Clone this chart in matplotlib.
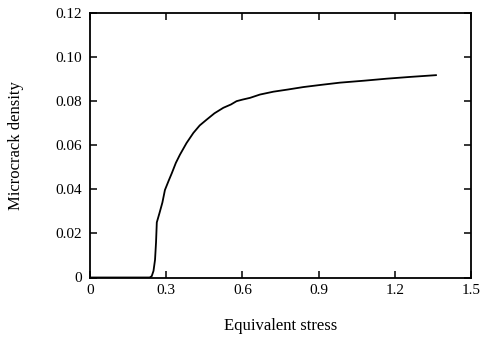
import matplotlib
matplotlib.use("Agg")
import matplotlib.pyplot as plt

stress = [0.0, 0.10, 0.20, 0.235, 0.243, 0.250, 0.256, 0.260, 0.263, 0.273, 0.285, 0.295,
          0.310, 0.322, 0.338, 0.354, 0.380, 0.407, 0.432, 0.459, 0.490, 0.525, 0.555,
          0.577, 0.600, 0.630, 0.669, 0.722, 0.780, 0.840, 0.910, 0.984, 1.080, 1.168,
          1.260, 1.362]
density = [0.0, 0.0, 0.0, 0.0, 0.0006, 0.003, 0.008, 0.016, 0.025, 0.029, 0.034, 0.0397,
           0.044, 0.0473, 0.052, 0.0557, 0.061, 0.0656, 0.069, 0.0716, 0.0745, 0.077, 0.0785,
           0.080, 0.0807, 0.0815, 0.083, 0.0843, 0.0853, 0.0864, 0.0874, 0.0884, 0.0893,
           0.0902, 0.0910, 0.0918]

xticks = [0, 0.3, 0.6, 0.9, 1.2, 1.5]
xticklabels = ["0", "0.3", "0.6", "0.9", "1.2", "1.5"]
yticks = [0, 0.02, 0.04, 0.06, 0.08, 0.10, 0.12]
yticklabels = ["0", "0.02", "0.04", "0.06", "0.08", "0.10", "0.12"]

plt.rcParams['font.family'] = ['Liberation Serif', 'DejaVu Serif']

fig = plt.figure(figsize=(4.82, 3.38), dpi=100)
ax = fig.add_axes([90/482, 1-277.5/338, (471-90)/482, (277.5-13)/338])

ax.plot(stress, density, color='black', lw=1.3)

ax.set_xlim(0, 1.5)
ax.set_ylim(0, 0.12)
ax.set_xticks(xticks)
ax.set_xticklabels(xticklabels)
ax.set_yticks(yticks)
ax.set_yticklabels(yticklabels)

ax.tick_params(direction='in', length=5, width=1.1, top=True, right=True,
               labelsize=11, pad=6, colors='black')
ax.tick_params(axis='x', pad=5)
for s in ax.spines.values():
    s.set_linewidth(1.3)

ax.set_xlabel("Equivalent stress", fontsize=12, labelpad=15)
ax.set_ylabel("Microcrack density", fontsize=12, labelpad=22)

fig.savefig("out.png", dpi=100)
